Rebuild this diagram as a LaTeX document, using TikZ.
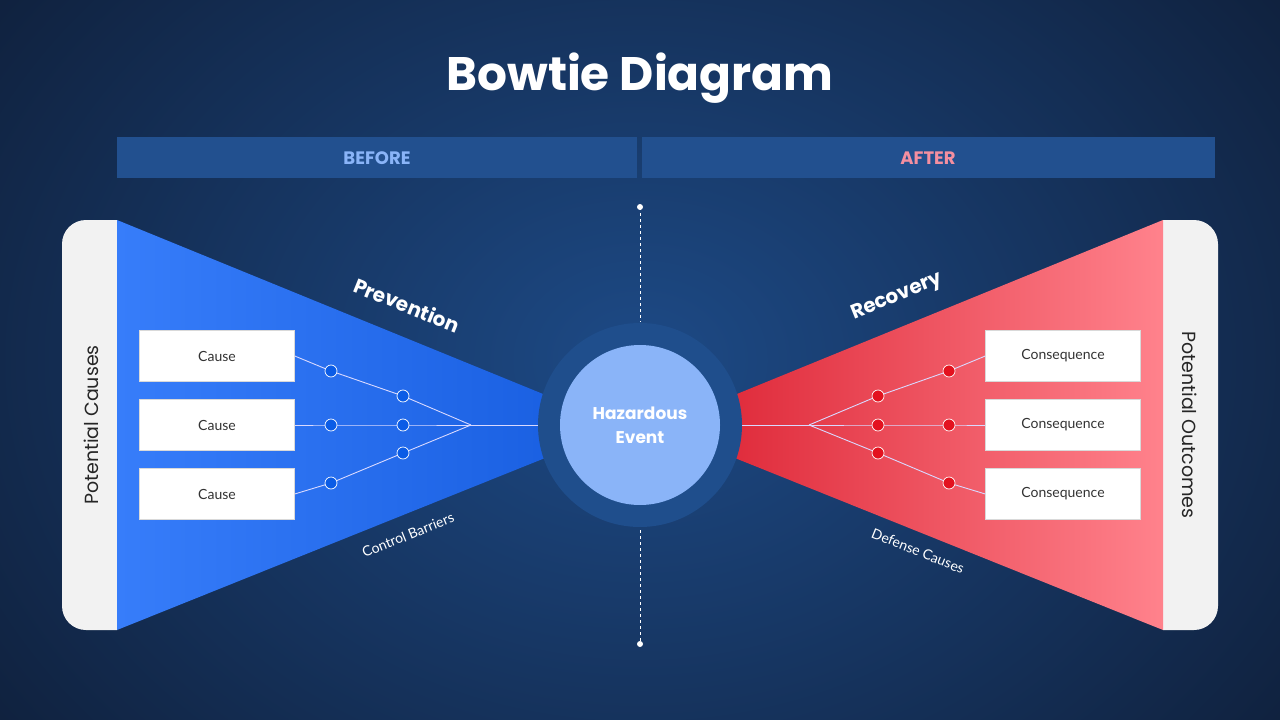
\documentclass[tikz,border=0pt]{standalone}
\usepackage{fontspec}
\setmainfont{Lato}
\newfontfamily\pop{Poppins}
\definecolor{bgc}{HTML}{0F1F3A}
\definecolor{bgm}{HTML}{1D4A86}
\definecolor{bar}{HTML}{22508F}
\definecolor{ring}{HTML}{1F4E8C}
\definecolor{core}{HTML}{8AB4F8}
\definecolor{bl}{HTML}{8AB4F8}
\definecolor{pk}{HTML}{F48FA0}
\definecolor{myblued}{RGB}{11,92,230}
\definecolor{myredd}{RGB}{227,18,31}
\begin{document}
\begin{tikzpicture}[x=1pt,y=-1pt,
  box/.style={draw=black!15,fill=white,minimum width=155pt,minimum height=51pt,inner sep=0pt,font=\fontsize{14}{16}\selectfont,text=black!80},
  bdotst/.style={circle,fill=myblued,draw=white,line width=0.7pt,minimum size=12pt,inner sep=0pt},
  rdotst/.style={circle,fill=myredd,draw=white,line width=0.7pt,minimum size=12pt,inner sep=0pt},
  wl/.style={draw=white!85!blue,line width=0.9pt},
  lab/.style={text=white,font=\fontsize{14}{16}\selectfont}]
\useasboundingbox (0,0) rectangle (1280,720);
\shade[inner color=bgm,outer color=bgc] (-200,-300) rectangle (1480,1020);
\node[font=\pop\bfseries\fontsize{47}{52}\selectfont,text=white] (title) at (640,78) {Bowtie Diagram};
\fill[bar] (117,137) rectangle (637,178);
\fill[bar] (642,137) rectangle (1215,178);
\node[font=\pop\fontsize{18}{20}\selectfont\bfseries,text=bl] (before) at (377,158) {BEFORE};
\node[font=\pop\fontsize{18}{20}\selectfont\bfseries,text=pk] (after) at (928,158) {AFTER};
% side panels
\fill[black!5] (117,220) -- (86,220) arc[start angle=90,end angle=180,radius=24pt] -- (62,606) arc[start angle=180,end angle=270,radius=24pt] -- (117,630) -- cycle;
\fill[black!5] (1163,220) -- (1194,220) arc[start angle=90,end angle=0,radius=24pt] -- (1218,606) arc[start angle=0,end angle=-90,radius=24pt] -- (1163,630) -- cycle;
\node[font=\pop\fontsize{19}{21}\selectfont,text=black!85,rotate=90] (pc) at (91,425) {Potential Causes};
\node[font=\pop\fontsize{19}{21}\selectfont,text=black!85,rotate=-90] (po) at (1190,425) {Potential Outcomes};
% wings
\shade[left color={rgb,255:red,55;green,125;blue,250}, right color={rgb,255:red,25;green,95;blue,225}]
  (117,220) -- (570,405) -- (570,448) -- (117,630) -- cycle;
\shade[left color={rgb,255:red,222;green,40;blue,56}, right color={rgb,255:red,255;green,130;blue,140}]
  (710,405) -- (1163,220) -- (1163,630) -- (710,448) -- cycle;
% dashed divider
\draw[white!70,dashed,line width=0.7pt] (640,207) -- (640,322);
\draw[white!70,dashed,line width=0.7pt] (640,530) -- (640,644);
\fill[white!80] (640,207) circle (3pt) (640,644) circle (3pt);
% boxes
\node[box] (c1) at (217,356) {Cause};
\node[box] (c2) at (217,425) {Cause};
\node[box] (c3) at (217,494) {Cause};
\node[box] (q1) at (1063,356) {Consequence};
\node[box] (q2) at (1063,425) {Consequence};
\node[box] (q3) at (1063,494) {Consequence};
\coordinate (lj) at (471,425);
\coordinate (rj) at (809,425);
\coordinate (cc) at (640,425);
\coordinate (p11) at (331,371); \coordinate (p12) at (403,396);
\coordinate (p21) at (331,425); \coordinate (p22) at (403,425);
\coordinate (p31) at (331,483); \coordinate (p32) at (403,453);
\coordinate (s11) at (949,371); \coordinate (s12) at (878,396);
\coordinate (s21) at (949,425); \coordinate (s22) at (878,425);
\coordinate (s31) at (949,483); \coordinate (s32) at (878,453);
\draw[wl] (c1.east) -- (p11) -- (p12) -- (lj);
\draw[wl] (c2.east) -- (p21) -- (p22) -- (lj);
\draw[wl] (c3.east) -- (p31) -- (p32) -- (lj);
\draw[wl] (lj) -- (cc);
\draw[wl] (q1.west) -- (s11) -- (s12) -- (rj);
\draw[wl] (q2.west) -- (s21) -- (s22) -- (rj);
\draw[wl] (q3.west) -- (s31) -- (s32) -- (rj);
\draw[wl] (rj) -- (cc);
\node[bdotst] (b11) at (p11) {};
\node[bdotst] (b12) at (p12) {};
\node[bdotst] (b21) at (p21) {};
\node[bdotst] (b22) at (p22) {};
\node[bdotst] (b31) at (p31) {};
\node[bdotst] (b32) at (p32) {};
\node[rdotst] (r11) at (s11) {};
\node[rdotst] (r12) at (s12) {};
\node[rdotst] (r21) at (s21) {};
\node[rdotst] (r22) at (s22) {};
\node[rdotst] (r31) at (s31) {};
\node[rdotst] (r32) at (s32) {};
\node[circle,fill=ring,minimum size=204pt,inner sep=0pt] (ring) at (cc) {};
\node[circle,fill=core,minimum size=160pt,inner sep=0pt,text=white,align=center,font=\pop\bfseries\fontsize{17}{24}\selectfont] (core) at (cc) {Hazardous\\Event};
% labels
\node[font=\pop\bfseries\fontsize{20}{22}\selectfont,text=white,rotate=-22] (prev) at (407,305) {Prevention};
\node[font=\pop\bfseries\fontsize{20}{22}\selectfont,text=white,rotate=22] (rec) at (897,297) {Recovery};
\node[lab,rotate=22] (cb) at (408,535) {Control Barriers};
\node[lab,rotate=-22] (dc) at (918,551) {Defense Causes};
\end{tikzpicture}
\end{document}
